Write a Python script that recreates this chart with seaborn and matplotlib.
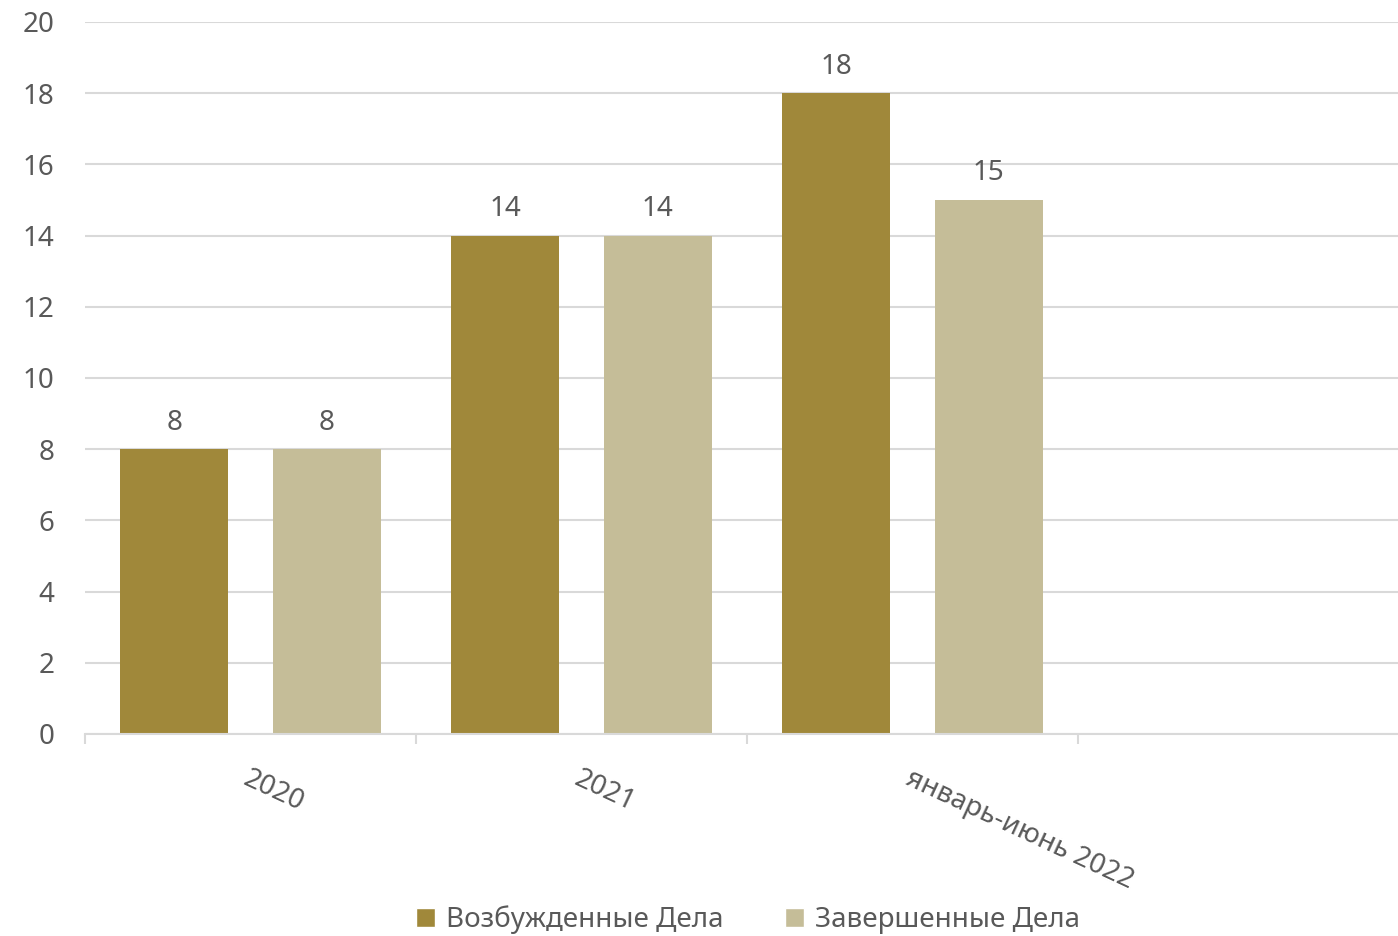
import pandas as pd
import matplotlib
matplotlib.use('Agg')
import matplotlib.pyplot as plt
import seaborn as sns
from matplotlib.patches import Patch

# data
periods = ['2020', '2021', 'январь-июнь 2022']
opened = [8, 14, 18]
closed = [8, 14, 15]
series_names = ['Возбужденные Дела', 'Завершенные Дела']
colors = ['#A0883A', '#C5BD98']

df = pd.DataFrame({
    'period': periods * 2,
    'value': opened + closed,
    'series': [series_names[0]] * 3 + [series_names[1]] * 3,
})

sns.set_style('white')
plt.rcParams['font.family'] = ['Noto Sans', 'DejaVu Sans']
text_col = '#595959'
grid_col = '#D9D9D9'
fs = 20

fig = plt.figure(figsize=(13.98, 9.36), dpi=100)
ax = fig.add_axes([85 / 1398, 1 - 734 / 936, 1324 / 1398, 712 / 936])

sns.barplot(data=df, x='period', y='value', hue='series', order=periods,
            hue_order=series_names, palette=colors, width=0.92, gap=0.29,
            saturation=1, linewidth=0, ax=ax, legend=False)

for cont in ax.containers:
    ax.bar_label(cont, padding=9, fontsize=fs, color=text_col)

ax.set_xlim(-0.5, 3.5)
ax.set_ylim(0, 20)
ax.set_yticks(range(0, 21, 2))
ax.yaxis.grid(True, color=grid_col, linewidth=1.5)
ax.set_axisbelow(True)
for s in ['top', 'right', 'left']:
    ax.spines[s].set_visible(False)
ax.spines['bottom'].set_color(grid_col)
ax.spines['bottom'].set_linewidth(1.5)

ax.set_xticks(range(len(periods)))
ax.set_xticklabels(periods, rotation=-25, ha='left', va='top',
                   rotation_mode='anchor', fontsize=fs, color=text_col)
ax.set_xticks([-0.5, 0.5, 1.5, 2.5, 3.5], minor=True)
ax.tick_params(axis='x', which='major', bottom=False, length=0, pad=22)
ax.tick_params(axis='x', which='minor', bottom=True, length=7, width=1.5, color=grid_col)
ax.tick_params(axis='y', left=False, length=0, labelsize=fs, labelcolor=text_col, pad=22)
ax.set_xlabel('')
ax.set_ylabel('')

handles = [Patch(facecolor=c, label=n) for c, n in zip(colors, series_names)]
fig.legend(handles=handles, loc='center', bbox_to_anchor=(748 / 1398, 1 - 920 / 936),
           ncol=2, frameon=False, fontsize=fs, labelcolor=text_col,
           handlelength=0.7, handleheight=0.7, handletextpad=0.4, columnspacing=2.2)

fig.savefig('out.png', dpi=100)
